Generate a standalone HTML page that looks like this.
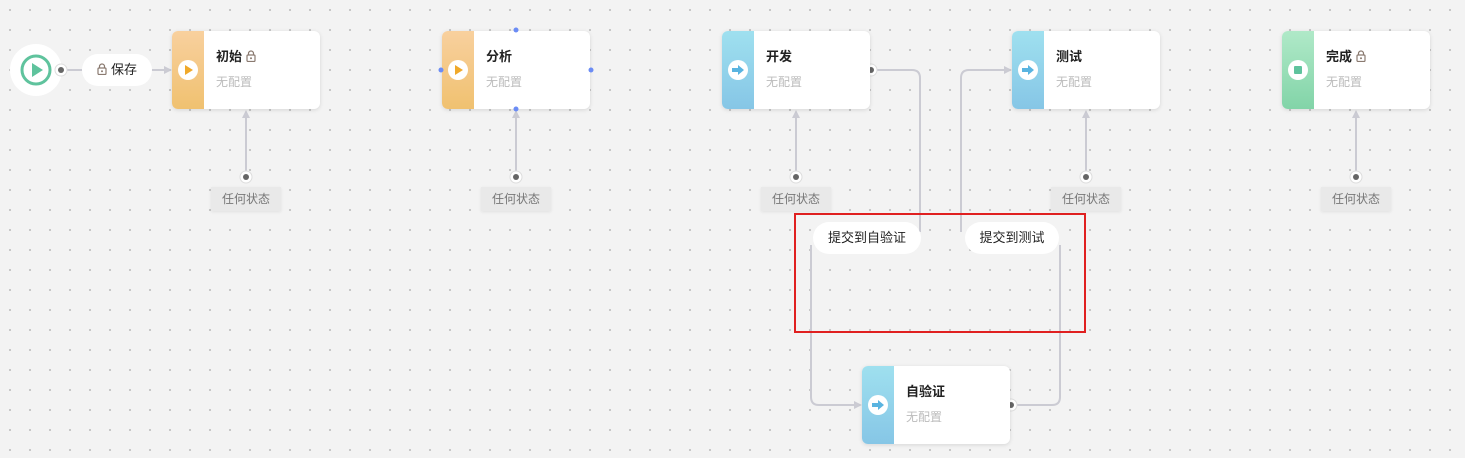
<!DOCTYPE html>
<html><head><meta charset="utf-8"><style>
body{margin:0;width:1465px;height:458px;overflow:hidden;background-color:#f3f3f3;background-image:radial-gradient(circle,#c4c4c4 1px,transparent 1.2px);background-size:20px 20px;background-position:0px 0px;font-family:"Liberation Sans","Noto Sans CJK SC",sans-serif;position:relative}
.n{position:absolute;width:148px;height:78px;background:#fff;border-radius:6px;box-shadow:0 1px 4px rgba(0,0,0,.12);overflow:hidden}
.s{position:absolute;left:0;top:0;width:32px;height:78px}
.o{background:linear-gradient(180deg,#f8d09e,#f0c170)}
.b{background:linear-gradient(180deg,#9fe0ef,#86c6e6)}
.g{background:linear-gradient(180deg,#b0e9c8,#82d4a8)}
.ic{position:absolute;left:6px;top:29px;width:20px;height:20px;border-radius:50%;background:#fff}
.t{position:absolute;left:44px;top:15px;font-size:13px;font-weight:bold;color:#222}
.d{position:absolute;left:44px;top:42px;font-size:12px;color:#bbb}
.any{position:absolute;width:70px;height:24px;background:#e9e9e9;color:#777;font-size:12px;text-align:center;line-height:24px;box-shadow:0 1px 3px rgba(0,0,0,.08)}
.lab{position:absolute;height:32px;background:#fff;border-radius:16px;font-size:13px;color:#222;line-height:32px;text-align:center}
.lk{display:inline-block;vertical-align:-1px;margin-left:4px}
</style></head><body>
<svg width="1465" height="458" style="position:absolute;left:0;top:0">
<g stroke="#cbcbd3" stroke-width="2" fill="none">
<line x1="62" y1="70" x2="82" y2="70"/><line x1="150" y1="70" x2="166" y2="70"/>
<line x1="246" y1="116" x2="246" y2="177"/><line x1="516" y1="116" x2="516" y2="177"/>
<line x1="796" y1="116" x2="796" y2="177"/><line x1="1086" y1="116" x2="1086" y2="177"/>
<line x1="1356" y1="116" x2="1356" y2="177"/>
<path d="M877 70 H912 Q920 70 920 78 V232"/>
<path d="M961 232 V78 Q961 70 969 70 H1004"/>
<path d="M811 245 V397 Q811 405 819 405 H854"/>
<path d="M1017 405 H1052 Q1060 405 1060 397 V245"/>
</g>
<g fill="#cbcbd3">
<path d="M172 70 l-8 -4 v8z"/><path d="M1012 70 l-8 -4 v8z"/><path d="M862 405 l-8 -4 v8z"/>
<path d="M246 110 l-4 8 h8z"/><path d="M516 110 l-4 8 h8z"/><path d="M796 110 l-4 8 h8z"/><path d="M1086 110 l-4 8 h8z"/><path d="M1356 110 l-4 8 h8z"/>
</g>
<circle cx="36" cy="70" r="26" fill="#fff"/>
<circle cx="36" cy="70" r="14" fill="none" stroke="#5fc39d" stroke-width="3"/>
<path d="M32 63 L43 70 L32 77z" fill="#5fc39d"/>
<g fill="#fff" stroke="#ddd" stroke-width="1">
<circle cx="61" cy="70" r="6"/><circle cx="871" cy="70" r="6"/><circle cx="1011" cy="405" r="6"/>
<circle cx="246" cy="177" r="6"/><circle cx="516" cy="177" r="6"/><circle cx="796" cy="177" r="6"/><circle cx="1086" cy="177" r="6"/><circle cx="1356" cy="177" r="6"/>
</g>
<g fill="#666">
<circle cx="61" cy="70" r="3"/><circle cx="871" cy="70" r="3"/><circle cx="1011" cy="405" r="3"/>
<circle cx="246" cy="177" r="3"/><circle cx="516" cy="177" r="3"/><circle cx="796" cy="177" r="3"/><circle cx="1086" cy="177" r="3"/><circle cx="1356" cy="177" r="3"/>
</g>
<rect x="795" y="214" width="290" height="118" fill="none" stroke="#e02020" stroke-width="2"/>
</svg>
<div class="lab" style="left:82px;top:54px;width:70px"><svg class="lk" style="margin:0 4px 0 0" width="10" height="12"><path d="M2.5 5 V3.5 a2.5 2.5 0 0 1 5 0 V5" fill="none" stroke="#8a7a70" stroke-width="1.2"/><rect x="1" y="5" width="8" height="6.5" rx="1" fill="none" stroke="#8a7a70" stroke-width="1.2"/><circle cx="5" cy="8.3" r="1" fill="#8a7a70"/></svg>保存</div>
<div class="n" style="left:172px;top:31px"><div class="s o"></div><div class="ic"><svg width="20" height="20"><path d="M7 5 L15 10 L7 15z" fill="#f0a92a"/></svg></div><div class="t">初始<svg class="lk" width="10" height="12"><path d="M2.5 5 V3.5 a2.5 2.5 0 0 1 5 0 V5" fill="none" stroke="#8a7a70" stroke-width="1.2"/><rect x="1" y="5" width="8" height="6.5" rx="1" fill="none" stroke="#8a7a70" stroke-width="1.2"/><circle cx="5" cy="8.3" r="1" fill="#8a7a70"/></svg></div><div class="d">无配置</div></div>
<div class="n" style="left:442px;top:31px"><div class="s o"></div><div class="ic"><svg width="20" height="20"><path d="M7 5 L15 10 L7 15z" fill="#f0a92a"/></svg></div><div class="t">分析</div><div class="d">无配置</div></div>
<svg width="1465" height="458" style="position:absolute;left:0;top:0;pointer-events:none"><g fill="#6b8cf5"><circle cx="516" cy="30" r="2.5"/><circle cx="516" cy="109" r="2.5"/><circle cx="441" cy="70" r="2.5"/><circle cx="591" cy="70" r="2.5"/></g></svg>
<div class="n" style="left:722px;top:31px"><div class="s b"></div><div class="ic"><svg width="20" height="20"><path d="M4 8 h6 v-3 l6 5 -6 5 v-3 h-6z" fill="#5ab4e0"/></svg></div><div class="t">开发</div><div class="d">无配置</div></div>
<div class="n" style="left:1012px;top:31px"><div class="s b"></div><div class="ic"><svg width="20" height="20"><path d="M4 8 h6 v-3 l6 5 -6 5 v-3 h-6z" fill="#5ab4e0"/></svg></div><div class="t">测试</div><div class="d">无配置</div></div>
<div class="n" style="left:1282px;top:31px"><div class="s g"></div><div class="ic"><svg width="20" height="20"><rect x="6" y="6" width="8" height="8" rx="1" fill="#5fc39d"/></svg></div><div class="t">完成<svg class="lk" width="10" height="12"><path d="M2.5 5 V3.5 a2.5 2.5 0 0 1 5 0 V5" fill="none" stroke="#8a7a70" stroke-width="1.2"/><rect x="1" y="5" width="8" height="6.5" rx="1" fill="none" stroke="#8a7a70" stroke-width="1.2"/><circle cx="5" cy="8.3" r="1" fill="#8a7a70"/></svg></div><div class="d">无配置</div></div>
<div class="n" style="left:862px;top:366px"><div class="s b"></div><div class="ic"><svg width="20" height="20"><path d="M4 8 h6 v-3 l6 5 -6 5 v-3 h-6z" fill="#5ab4e0"/></svg></div><div class="t">自验证</div><div class="d">无配置</div></div>
<div class="any" style="left:211px;top:187px">任何状态</div>
<div class="any" style="left:481px;top:187px">任何状态</div>
<div class="any" style="left:761px;top:187px">任何状态</div>
<div class="any" style="left:1051px;top:187px">任何状态</div>
<div class="any" style="left:1321px;top:187px">任何状态</div>
<div class="lab" style="left:813px;top:222px;width:108px">提交到自验证</div>
<div class="lab" style="left:965px;top:222px;width:94px">提交到测试</div>
</body></html>
